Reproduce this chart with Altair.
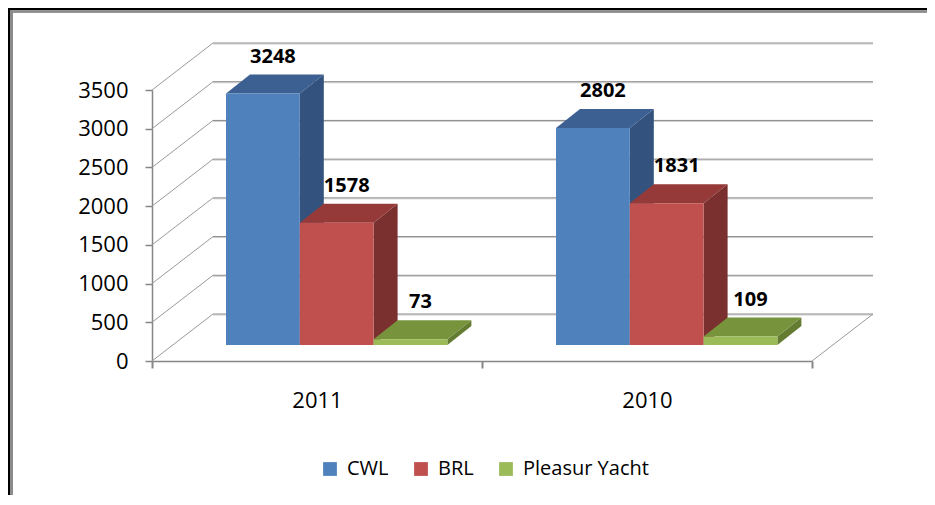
import altair as alt
import pandas as pd

# ---------------- data ----------------
YEARS = ["2011", "2010"]
SERIES = ["CWL", "BRL", "Pleasur Yacht"]
CWL = [3248, 2802]
BRL = [1578, 1831]
PLEASUR_YACHT = [73, 109]
Y_TICKS = [0, 500, 1000, 1500, 2000, 2500, 3000, 3500]

# ---------------- styles ----------------
FRONT_COLORS = ["#4F81BD", "#C0504D", "#9BBB59"]
TOP_COLORS = ["#3D6092", "#953A38", "#77933C"]
SIDE_COLORS = ["#34527E", "#7A302E", "#647C32"]
FONT = "Open Sans"

W, H = 660, 271
YMAX = 3500
UX = 2 / W        # x data units per pixel (two category slots)
UY = YMAX / H     # y data units per pixel

GROUP_LEFT = 74   # px from slot start to first bar
BAR_W = 73.8      # px
BASE = 16         # px bars float above the floor front edge
DDX, DDY = 24, 19  # bar depth (px)
WDX, WDY = 61, 47  # wall depth (px)

rows = []
for gi, year in enumerate(YEARS):
    for si, (name, vals) in enumerate(zip(SERIES, [CWL, BRL, PLEASUR_YACHT])):
        rows.append({"year": year, "gi": gi, "series": name, "si": si, "value": vals[gi]})
bars = pd.DataFrame(rows)
grid = pd.DataFrame({"tick": Y_TICKS})

XS = alt.Scale(domain=[0, 2], nice=False, zero=False)
YS = alt.Scale(domain=[0, YMAX], nice=False, zero=False)
Y_AXIS = alt.Axis(title=None, values=Y_TICKS, format="d", grid=False,
                  labelPadding=17, tickSize=7, tickWidth=1.5, orient="left")


def qx(f):
    return alt.X(f, type="quantitative", scale=XS, axis=None)


def qy(f):
    return alt.Y(f, type="quantitative", scale=YS, axis=Y_AXIS)


def geom(ch):
    return (
        ch.transform_calculate(x0=f"datum.gi + ({GROUP_LEFT} + datum.si * {BAR_W}) * {UX}")
        .transform_calculate(x1=f"datum.x0 + {BAR_W * UX}")
        .transform_calculate(y0=f"{BASE * UY}")
        .transform_calculate(y1="datum.y0 + datum.value")
        .transform_calculate(key="datum.year + '|' + datum.series")
    )


# ---------- frame ----------
frame_black_v = alt.Chart(grid).mark_rule(color="#000", strokeWidth=1.6).encode(
    x=alt.value(-143.2), y=alt.value(-90), y2=alt.value(430))
frame_gray_v = alt.Chart(grid).mark_rule(color="#8c8c8c", strokeWidth=2.5).encode(
    x=alt.value(-140.7), y=alt.value(-80), y2=alt.value(430))
frame_black_h = alt.Chart(grid).mark_rule(color="#000", strokeWidth=1.6).encode(
    x=alt.value(-144), x2=alt.value(800), y=alt.value(-81.2))
frame_gray_h = alt.Chart(grid).mark_rule(color="#8c8c8c", strokeWidth=1.5).encode(
    x=alt.value(-141.5), x2=alt.value(800), y=alt.value(-78.5))

# ---------- axes (band scale for the categories) ----------
axes = alt.Chart(bars).mark_point(opacity=0).encode(
    x=alt.X("year:N", sort=YEARS,
            scale=alt.Scale(type="band", paddingInner=0, paddingOuter=0),
            axis=alt.Axis(title=None, labelAngle=0, tickBand="extent", labelPadding=22,
                          tickSize=7, tickWidth=2)),
    y=qy("value"),
)

# ---------- back wall & floor ----------
wall = alt.Chart(grid).transform_calculate(
    wx=f"{WDX * UX}", wx2=f"2 + {WDX * UX}", wy=f"datum.tick + {WDY * UY}")
wall_dark = wall.mark_rule(color="#8a8a8a", strokeWidth=1).encode(
    x=qx("wx"), x2="wx2:Q", y=qy("wy"))
wall_light = wall.mark_rule(color="#cdcdcd", strokeWidth=1, yOffset=1).encode(
    x=qx("wx"), x2="wx2:Q", y=qy("wy"))
slants = wall.transform_calculate(sx0="0").mark_rule(color="#9a9a9a", strokeWidth=1).encode(
    x=qx("sx0"), x2="wx:Q", y=qy("tick"), y2="wy:Q")
floor_edge = wall.transform_filter("datum.tick == 0").transform_calculate(
    fx="2").mark_rule(color="#9a9a9a", strokeWidth=1).encode(
    x=qx("fx"), x2="wx2:Q", y=qy("tick"), y2="wy:Q")

# ---------- 3D bars ----------
verts = geom(alt.Chart(bars)).transform_calculate(v="[0, 1]").transform_flatten(["v"])

side = verts.transform_calculate(
    sx=f"datum.x1 + datum.v * {DDX * UX}",
    sy=f"datum.y0 + datum.v * {DDY * UY}",
    sy2=f"datum.y1 + datum.v * {DDY * UY}",
).mark_area(orient="vertical", opacity=1).encode(
    x=qx("sx"), y=qy("sy"), y2="sy2:Q", detail="key:N",
    color=alt.Color("series:N", scale=alt.Scale(domain=SERIES, range=SIDE_COLORS), legend=None),
)

top = verts.transform_calculate(
    tx=f"datum.x0 + datum.v * {DDX * UX}",
    tx2=f"datum.x1 + datum.v * {DDX * UX}",
    ty=f"datum.y1 + datum.v * {DDY * UY}",
).mark_area(orient="horizontal", opacity=1).encode(
    x=qx("tx"), x2="tx2:Q", y=qy("ty"), detail="key:N",
    color=alt.Color("series:N", scale=alt.Scale(domain=SERIES, range=TOP_COLORS), legend=None),
)

front = geom(alt.Chart(bars)).mark_rect().encode(
    x=qx("x0"), x2="x1:Q", y=qy("y0"), y2="y1:Q",
    color=alt.Color("series:N", scale=alt.Scale(domain=SERIES, range=FRONT_COLORS),
                    legend=alt.Legend(orient="none", legendX=168, legendY=369,
                                      direction="horizontal", title=None,
                                      symbolType="square", symbolSize=190,
                                      symbolStrokeWidth=0, labelFont=FONT,
                                      labelFontSize=20, labelColor="#000",
                                      labelOffset=7, columnPadding=22)),
)

labels = geom(alt.Chart(bars)).transform_calculate(
    xc=f"datum.x0 + {(BAR_W / 2 + 10) * UX}"
).mark_text(font=FONT, fontWeight="bold", fontSize=20, dy=-31,
            baseline="alphabetic", align="center", color="#000").encode(
    x=qx("xc"), y=qy("y1"), text=alt.Text("value:Q", format="d"),
)

chart = alt.layer(
    axes,
    frame_black_v, frame_gray_v, frame_black_h, frame_gray_h,
    wall_light, wall_dark, slants, floor_edge,
    side, top, front, labels,
).resolve_scale(x="independent", color="independent").properties(
    width=W, height=H,
    autosize=alt.AutoSizeParams(type="none"),
    padding={"left": 144, "top": 82, "right": 115, "bottom": 134},
).configure_view(stroke=None).configure_axis(
    labelFont=FONT, labelFontSize=22, labelColor="#000",
    domainColor="#868686", domainWidth=1.5, tickColor="#868686",
)

chart.save("out.html", embed_options={"renderer": "svg", "actions": False})
